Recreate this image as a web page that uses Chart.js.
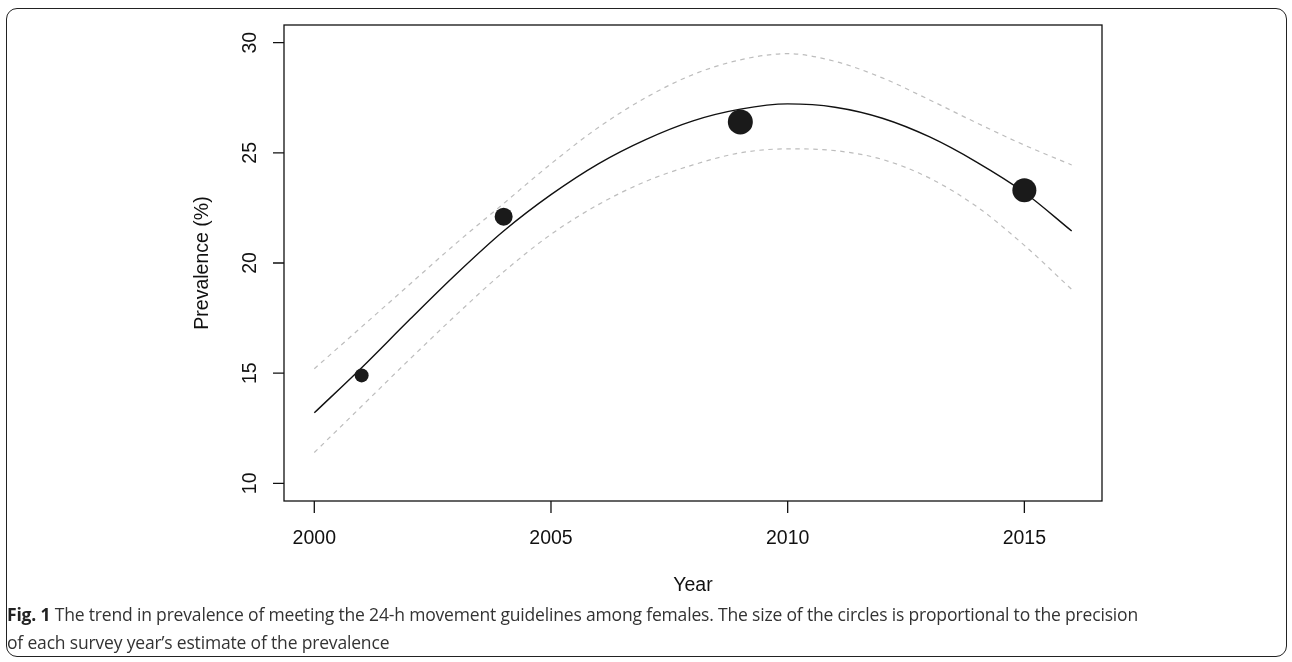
<!DOCTYPE html>
<html>
<head>
<meta charset="utf-8">
<script src="https://cdn.jsdelivr.net/npm/chart.js@4/dist/chart.umd.min.js"></script>
<style>
  html, body { margin: 0; padding: 0; background: #fff; }
  body { width: 1292px; height: 662px; position: relative; overflow: hidden; }
  #frame { position: absolute; left: 6px; top: 8px; width: 1281px; height: 649px;
           box-sizing: border-box; border: 1.5px solid #222; border-radius: 11px; }
  #wrap { position: absolute; left: 0; top: 0; width: 1292px; height: 662px; }
  .cap { position: absolute; left: 7px; font-family: "Open Sans", "Noto Sans", sans-serif;
         font-size: 17.5px; line-height: 1; color: #333; white-space: nowrap; }
  .cap b { color: #222; }
</style>
</head>
<body>
<div id="frame"></div>
<div id="wrap"><canvas id="c" width="1292" height="662"></canvas></div>
<div class="cap" id="cap1"><b>Fig. 1</b> The trend in prevalence of meeting the 24-h movement guidelines among females. The size of the circles is proportional to the precision</div>
<div class="cap" id="cap2">of each survey year’s estimate of the prevalence</div>
<script>
// ---- data ----
const surveyYears = [2001, 2004, 2009, 2015];
const prevalence  = [14.9, 22.1, 26.4, 23.3];
const markerRadius = [7, 9, 12.5, 12];   // circle size ~ precision of each estimate

const curveYears = [2000, 2001, 2002, 2003, 2004, 2005, 2006, 2007, 2008,
                    2009, 2010, 2011, 2012, 2013, 2014, 2015, 2016];
const fitted  = [13.2, 15.25, 17.4, 19.5, 21.45, 23.1, 24.5, 25.6, 26.45,
                 26.98, 27.22, 27.07, 26.57, 25.72, 24.57, 23.2, 21.45];
const upperCI = [15.2, 17.1, 19.0, 20.9, 22.7, 24.5, 26.15, 27.5, 28.55,
                 29.22, 29.5, 29.15, 28.4, 27.4, 26.35, 25.35, 24.45];
const lowerCI = [11.4, 13.5, 15.6, 17.65, 19.6, 21.3, 22.65, 23.7, 24.45,
                 25.0, 25.18, 25.1, 24.7, 23.85, 22.55, 20.8, 18.8];

const xTicks = [2000, 2005, 2010, 2015];
const yTicks = [10, 15, 20, 25, 30];
const xTitle = 'Year';
const yTitle = 'Prevalence (%)';

// ---- build datasets ----
const toXY = (xs, ys) => xs.map((x, i) => ({ x: x, y: ys[i] }));

const rAxes = {
  id: 'rAxes',
  afterDraw(chart) {
    const { ctx, chartArea: a, scales } = chart;
    const xs = scales.x, ys = scales.y;
    ctx.save();
    ctx.strokeStyle = '#111';
    ctx.lineWidth = 1.3;
    ctx.strokeRect(a.left, a.top, a.right - a.left, a.bottom - a.top);
    ctx.beginPath();
    xTicks.forEach(v => { const p = xs.getPixelForValue(v); ctx.moveTo(p, a.bottom); ctx.lineTo(p, a.bottom + 12); });
    yTicks.forEach(v => { const p = ys.getPixelForValue(v); ctx.moveTo(a.left, p); ctx.lineTo(a.left - 11, p); });
    ctx.stroke();

    ctx.fillStyle = '#111';
    ctx.font = '19.5px "Liberation Sans", Arial, Helvetica, sans-serif';
    ctx.textAlign = 'center';
    ctx.textBaseline = 'alphabetic';
    xTicks.forEach(v => ctx.fillText(String(v), xs.getPixelForValue(v), a.bottom + 43));
    yTicks.forEach(v => {
      ctx.save();
      ctx.translate(a.left - 28, ys.getPixelForValue(v));
      ctx.rotate(-Math.PI / 2);
      ctx.fillText(String(v), 0, 0);
      ctx.restore();
    });
    ctx.fillText(xTitle, (a.left + a.right) / 2, a.bottom + 90);
    ctx.save();
    ctx.translate(a.left - 76, (a.top + a.bottom) / 2);
    ctx.rotate(-Math.PI / 2);
    ctx.fillText(yTitle, 0, 0);
    ctx.restore();
    ctx.restore();
  }
};

new Chart(document.getElementById('c'), {
  type: 'scatter',
  data: {
    datasets: [
      {
        type: 'scatter',
        label: 'Survey estimate',
        data: toXY(surveyYears, prevalence),
        pointRadius: markerRadius,
        pointHoverRadius: markerRadius,
        pointBackgroundColor: '#1a1a1a',
        pointBorderColor: '#1a1a1a',
        pointBorderWidth: 0,
        order: 0
      },
      {
        type: 'line',
        label: 'Fitted trend',
        data: toXY(curveYears, fitted),
        borderColor: '#111',
        borderWidth: 1.4,
        pointRadius: 0,
        fill: false,
        cubicInterpolationMode: 'monotone',
        order: 1
      },
      {
        type: 'line',
        label: 'Upper 95% CI',
        data: toXY(curveYears, upperCI),
        borderColor: '#bdbdbd',
        borderWidth: 1.2,
        borderDash: [4.5, 4.5],
        pointRadius: 0,
        fill: false,
        cubicInterpolationMode: 'monotone',
        order: 2
      },
      {
        type: 'line',
        label: 'Lower 95% CI',
        data: toXY(curveYears, lowerCI),
        borderColor: '#bdbdbd',
        borderWidth: 1.2,
        borderDash: [4.5, 4.5],
        pointRadius: 0,
        fill: false,
        cubicInterpolationMode: 'monotone',
        order: 2
      }
    ]
  },
  options: {
    responsive: false,
    animation: false,
    layout: { padding: { left: 284, top: 25, right: 190, bottom: 161 } },
    plugins: { legend: { display: false }, tooltip: { enabled: false }, title: { display: false } },
    scales: {
      x: { type: 'linear', min: 1999.36, max: 2016.64, display: false },
      y: { type: 'linear', min: 9.2, max: 30.8, display: false }
    }
  },
  plugins: [rAxes]
});

// caption placement: baselines at ~622 and ~650, line 1 spanning ~1131px
(function () {
  const c1 = document.getElementById('cap1');
  const c2 = document.getElementById('cap2');
  const fs = 17.5;
  c1.style.top = (622 - 0.888 * fs) + 'px';
  c2.style.top = (650 - 0.888 * fs) + 'px';
  const target = 1131;
  const w = c1.getBoundingClientRect().width;
  const n = c1.textContent.length;
  const ls = (target - w) / n;
  c1.style.letterSpacing = ls + 'px';
  c2.style.letterSpacing = ls + 'px';
})();
</script>
</body>
</html>
